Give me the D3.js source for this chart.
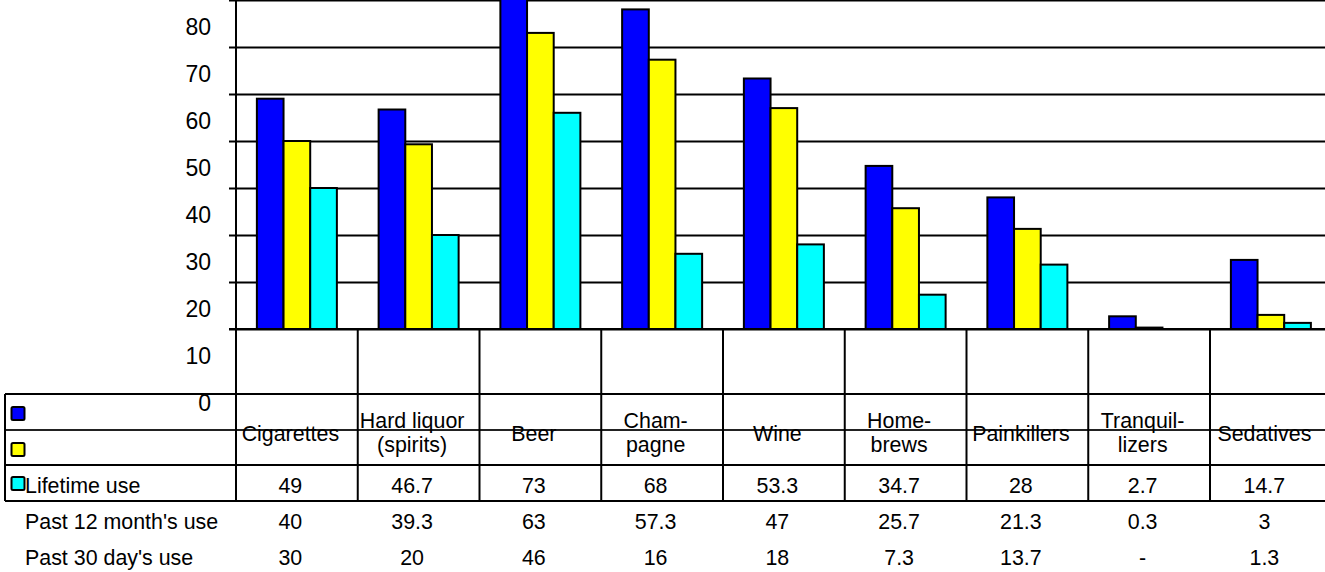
<!DOCTYPE html>
<html>
<head>
<meta charset="utf-8">
<script src="https://cdn.jsdelivr.net/npm/d3@7"></script>
<style>
  html, body { margin: 0; padding: 0; background: #fff; }
  svg { display: block; font-family: "Liberation Sans", Arial, sans-serif; }
</style>
</head>
<body>
<svg id="chart" width="1325" height="572"></svg>
<script>
// ---- data ----
const categories = ["Cigarettes", "Hard liquor (spirits)", "Beer", "Champagne", "Wine", "Home-brews", "Painkillers", "Tranquilizers", "Sedatives"];
const categoryLines = [["Cigarettes"], ["Hard liquor", "(spirits)"], ["Beer"], ["Cham-", "pagne"], ["Wine"], ["Home-", "brews"], ["Painkillers"], ["Tranquil-", "lizers"], ["Sedatives"]];
const seriesNames = ["Lifetime use", "Past 12 month's use", "Past 30 day's use"];
const lifetime = [49, 46.7, 73, 68, 53.3, 34.7, 28, 2.7, 14.7];
const past12 = [40, 39.3, 63, 57.3, 47, 25.7, 21.3, 0.3, 3];
const past30 = [30, 20, 46, 16, 18, 7.3, 13.7, null, 1.3];
const gridTicks = [0, 10, 20, 30, 40, 50, 60, 70];
const tickLabels = [0, 10, 20, 30, 40, 50, 60, 70, 80];
const colors = ["#0000ff", "#ffff00", "#00ffff"];

const series = [lifetime, past12, past30];

// ---- layout ----
const svg = d3.select("#chart");
const W = 1325;
const axisX = 236;
const bandW = 121.75;
const baseY = 329;

const x = d3.scaleBand().domain(categories).range([axisX, axisX + bandW * categories.length]).padding(0);
const groupW = 80;
const x1 = d3.scaleBand().domain(seriesNames).range([0, groupW]).padding(0);
const y = d3.scaleLinear().domain([0, 70]).range([baseY, 0]);

// table geometry
const tableTop = 394;
const rowYs = [394, 430, 465, 501];
const tableLeft = 5;

// gridlines
const grid = svg.append("g")
  .attr("transform", `translate(229,0)`)
  .call(d3.axisLeft(y).tickValues(gridTicks).tickSize(-(W - 229)).tickFormat(""));
grid.select(".domain").remove();
grid.selectAll(".tick line").attr("stroke", "#000").attr("stroke-width", 2);

// bars
const bars = svg.append("g").attr("clip-path", "url(#clip)");
svg.append("clipPath").attr("id", "clip").append("rect").attr("x", 0).attr("y", 0).attr("width", W).attr("height", 572);
series.forEach((vals, si) => {
  bars.selectAll(null)
    .data(vals.map((v, i) => ({ v, c: categories[i] })).filter(d => d.v !== null))
    .enter().append("rect")
    .attr("x", d => x(d.c) + (bandW - groupW) / 2 + x1(seriesNames[si]))
    .attr("y", d => y(d.v))
    .attr("width", x1.bandwidth())
    .attr("height", d => baseY - y(d.v))
    .attr("fill", colors[si])
    .attr("stroke", "#000")
    .attr("stroke-width", 2);
});

// table lines
const lines = svg.append("g").attr("stroke", "#000").attr("stroke-width", 2);
lines.append("line").attr("x1", 229).attr("x2", W).attr("y1", baseY).attr("y2", baseY);
rowYs.forEach((ry, i) => {
  lines.append("line").attr("x1", tableLeft).attr("x2", W).attr("y1", ry).attr("y2", ry)
    .attr("stroke", i === 1 ? "#222" : "#000");
});
lines.append("line").attr("x1", tableLeft).attr("x2", tableLeft).attr("y1", tableTop).attr("y2", rowYs[3]);
lines.append("line").attr("x1", axisX).attr("x2", axisX).attr("y1", 0).attr("y2", rowYs[3]);
categories.forEach(c => {
  const xr = x(c) + bandW;
  if (xr < W) lines.append("line").attr("x1", xr).attr("x2", xr).attr("y1", baseY).attr("y2", rowYs[3]);
});

// y tick labels (offset below their gridlines as in the reference)
svg.append("g").selectAll("text").data(tickLabels).enter().append("text")
  .attr("x", 211).attr("y", d => y(d) + 82)
  .attr("text-anchor", "end").attr("font-size", 23).text(d => d);

// category labels
const txtOff = -6.5;
const catG = svg.append("g").attr("font-size", 21.4).attr("text-anchor", "middle");
categories.forEach((c, i) => {
  const cx = x(c) + bandW / 2 + txtOff;
  const ls = categoryLines[i];
  if (ls.length === 1) {
    catG.append("text").attr("x", cx).attr("y", 441).text(ls[0]);
  } else {
    catG.append("text").attr("x", cx).attr("y", 428).text(ls[0]);
    catG.append("text").attr("x", cx).attr("y", 452).text(ls[1]);
  }
});

// legend keys
const keyYs = [407, 443, 477];
colors.forEach((col, i) => {
  svg.append("rect").attr("x", 11.5).attr("y", keyYs[i]).attr("width", 13).attr("height", 13)
    .attr("rx", 1.5).attr("fill", col).attr("stroke", "#000").attr("stroke-width", 2);
});

// row labels and values
const rowBase = [493, 529, 565];
const rowG = svg.append("g").attr("font-size", 21.4);
seriesNames.forEach((s, si) => {
  rowG.append("text").attr("x", 25).attr("y", rowBase[si]).text(s);
  series[si].forEach((v, i) => {
    rowG.append("text").attr("x", x(categories[i]) + bandW / 2 + txtOff).attr("y", rowBase[si])
      .attr("text-anchor", "middle").text(v === null ? "-" : v);
  });
});
</script>
</body>
</html>
